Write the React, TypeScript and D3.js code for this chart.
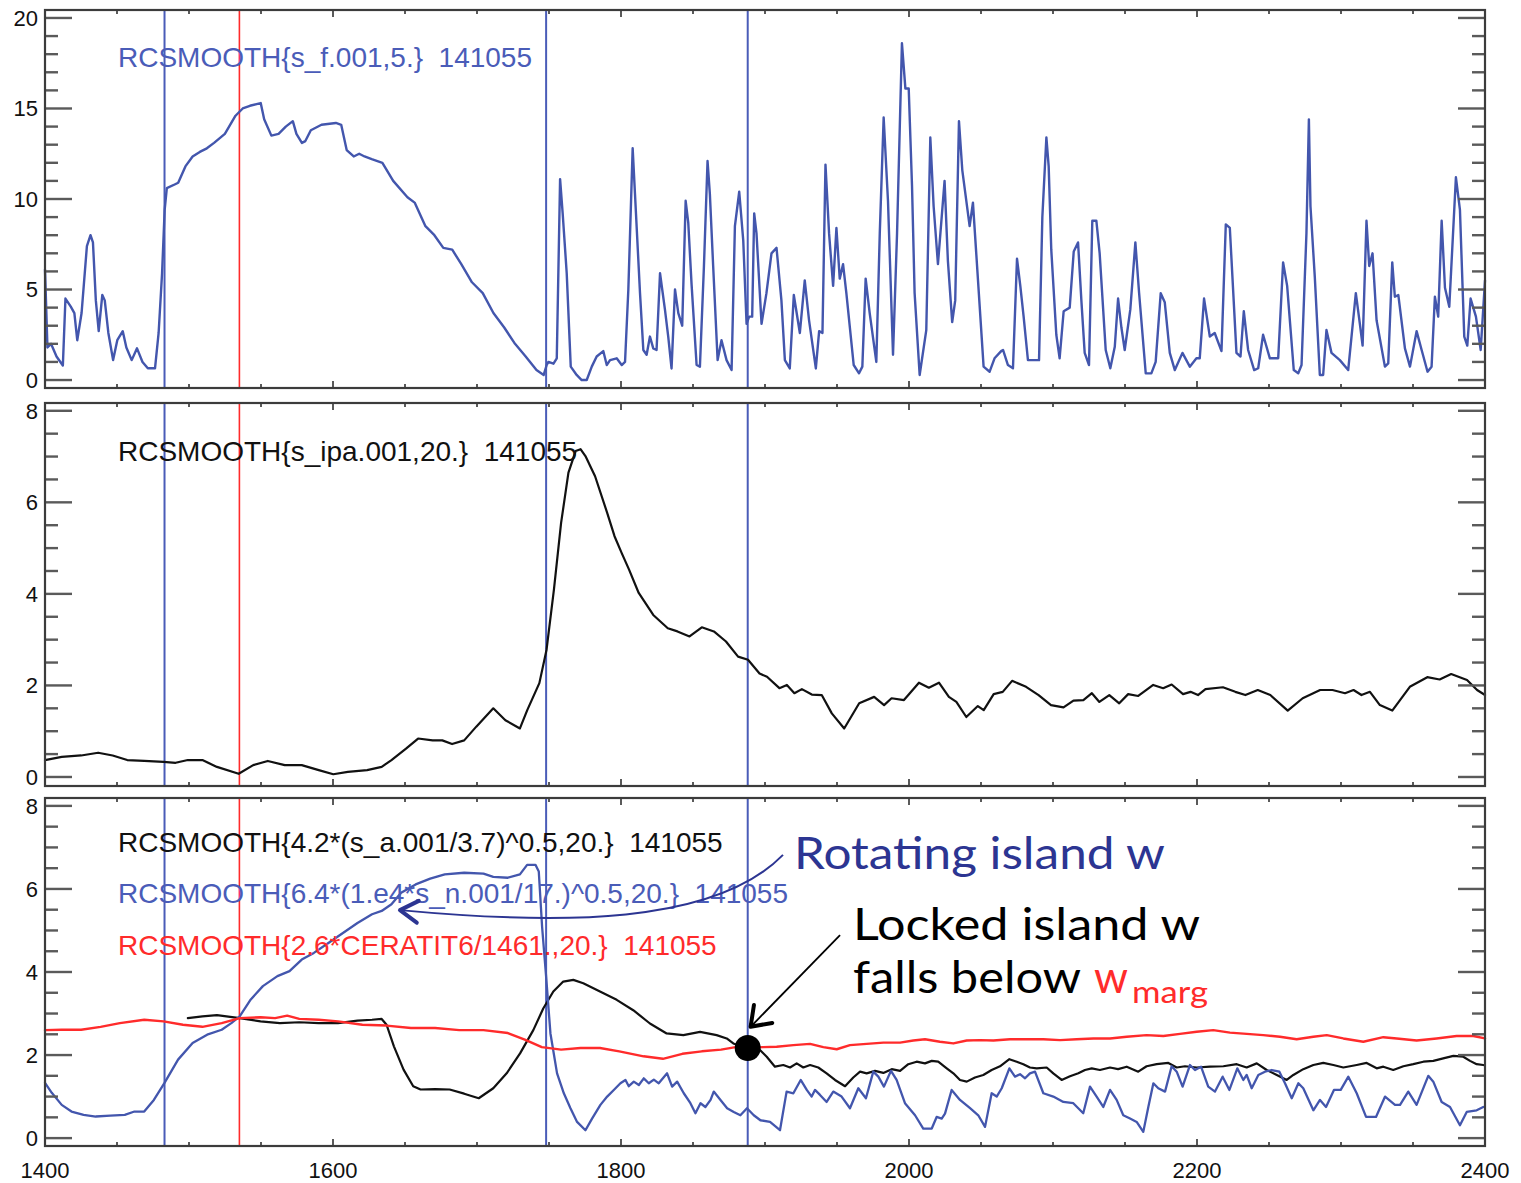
import React from 'react';
import * as d3 from 'd3';

// ---------------- DATA ----------------
const xTicksMajor = [1400, 1600, 1800, 2000, 2200, 2400];
const topYTicks = [0, 5, 10, 15, 20];
const midYTicks = [0, 2, 4, 6, 8];
const botYTicks = [0, 2, 4, 6, 8];
const blueMarkers = [1483, 1748, 1888];
const redMarkers = [1535];

const topLabel = 'RCSMOOTH{s_f.001,5.}  141055';
const midLabel = 'RCSMOOTH{s_ipa.001,20.}  141055';
const botLabels = [
  'RCSMOOTH{4.2*(s_a.001/3.7)^0.5,20.}  141055',
  'RCSMOOTH{6.4*(1.e4*s_n.001/17.)^0.5,20.}  141055',
  'RCSMOOTH{2.6*CERATIT6/1461.,20.}  141055',
];

const topF: [number, number][] = [
[1400,6.1],[1401.7,1.8],[1404.2,2.0],[1408,1.3],[1412.4,0.8],[1414.2,4.5],[1417.9,4.05],[1420.4,3.7],[1422.4,2.2],[1425.4,3.7],[1429.1,7.4],[1431.6,8.0],[1433.3,7.6],[1435.3,4.4],[1437.3,2.7],[1439.8,4.7],[1441.5,4.4],[1444,2.6],[1447.3,1.1],[1450.2,2.2],[1454,2.7],[1456.5,1.8],[1460.2,1.1],[1463.9,1.75],[1467.7,1.0],[1471.4,0.65],[1476.4,0.65],[1478.9,2.6],[1481.3,5.9],[1483.1,9.4],[1484.6,10.6],[1490,10.8],[1492.5,10.9],[1497.5,11.8],[1502.5,12.35],[1507.5,12.6],[1512.4,12.8],[1517.4,13.1],[1524.9,13.6],[1532.3,14.6],[1537.3,15.0],[1542.3,15.15],[1549.8,15.3],[1552.2,14.4],[1557.2,13.5],[1562.2,13.6],[1567.2,14.0],[1572.1,14.3],[1574.6,13.6],[1578.4,13.1],[1580.8,13.2],[1584.6,13.8],[1592,14.1],[1602,14.2],[1605.7,14.1],[1609.5,12.7],[1614.4,12.35],[1618.2,12.5],[1621.9,12.35],[1626.9,12.2],[1634.3,12.0],[1641.8,11.0],[1651.7,10.1],[1656.7,9.8],[1664.2,8.5],[1670.4,8.0],[1676.6,7.3],[1682.8,7.2],[1689.1,6.4],[1696.5,5.4],[1704,4.8],[1711.4,3.7],[1718.9,2.9],[1726.4,2.0],[1733.8,1.3],[1741.3,0.55],[1746.3,0.28],[1748.4,0.83],[1749.6,1.0],[1753.1,0.9],[1755.4,1.2],[1757.7,11.1],[1759.5,9.2],[1762.3,5.9],[1765.1,0.74],[1769.2,0.28],[1772.7,0],[1776.2,0],[1779.7,0.74],[1783.1,1.3],[1787.7,1.6],[1790.1,0.83],[1792.4,1.1],[1797,1.2],[1800.5,0.83],[1802.8,1.0],[1805.1,5.0],[1808.1,12.8],[1809.7,10.3],[1813.2,4.8],[1815.5,1.66],[1817.8,1.4],[1820.1,2.4],[1822.4,1.75],[1824.7,1.66],[1827.1,5.9],[1830.5,3.9],[1832.8,2.4],[1835.1,0.64],[1837.5,5.0],[1839.8,3.7],[1842.5,3.0],[1844.9,9.9],[1846.7,8.7],[1849,5.3],[1852.5,0.83],[1854.8,0.74],[1857.6,6.3],[1860.1,12.1],[1861.7,10.3],[1864,6.3],[1867.1,1.1],[1869.8,2.2],[1873.3,1.1],[1876.8,0.55],[1879.1,8.5],[1882.1,10.4],[1884.9,7.7],[1887.2,3.1],[1889,3.5],[1891.1,3.5],[1892.5,9.2],[1894.1,8.1],[1897.6,3.1],[1901,4.8],[1904.5,7.0],[1908,7.3],[1911.4,4.4],[1913.8,1.1],[1917.2,0.64],[1920,4.7],[1924.2,2.6],[1927.6,5.5],[1930.6,3.3],[1935.3,0.64],[1937.6,2.7],[1939.9,2.6],[1942,11.9],[1944.5,8.1],[1947.3,5.2],[1949.6,8.4],[1951.9,5.6],[1954.2,6.4],[1956.5,4.8],[1961.6,0.83],[1965.3,0.37],[1967.6,0.74],[1969.9,5.6],[1972.7,3.7],[1977.3,1.0],[1979.7,8.1],[1982.4,14.5],[1985.4,9.9],[1988.9,1.4],[1991.7,8.1],[1995.1,18.6],[1997.5,16.1],[1999.8,16.1],[2002.1,10.7],[2003.9,4.8],[2007.4,0.28],[2012,2.76],[2014.8,13.4],[2017.1,9.6],[2020.1,6.4],[2024.7,11.0],[2027,6.6],[2030,3.2],[2032.1,4.4],[2034.7,14.3],[2037,11.6],[2042.1,8.5],[2044.4,9.8],[2046.7,7.0],[2051.8,0.74],[2056,0.46],[2059.4,1.2],[2064,1.6],[2065.3,1.66],[2068.7,0.83],[2072.2,0.65],[2075,6.7],[2077.3,5.2],[2079.6,3.5],[2082.6,1.1],[2090.3,1.1],[2092.6,9.0],[2095.4,13.4],[2097,11.8],[2098.8,7.2],[2102.3,2.5],[2104.6,1.2],[2107.4,3.8],[2111.6,4.0],[2114.4,7.1],[2117.4,7.6],[2119.7,4.4],[2122,1.5],[2125,0.83],[2127.3,8.8],[2130.1,8.8],[2132.4,7.0],[2136.6,1.66],[2139.8,0.65],[2142.9,1.84],[2145.2,4.5],[2147.5,2.9],[2149.8,1.66],[2153.7,3.9],[2157.2,7.6],[2159.8,4.8],[2164.4,0.37],[2168.3,0.37],[2171.3,1.0],[2174.8,4.8],[2177.6,4.3],[2181.1,1.5],[2184.6,0.55],[2189.9,1.5],[2195,0.74],[2199.6,1.2],[2201.9,1.2],[2204.9,4.5],[2208.9,2.4],[2212.3,2.6],[2217,1.6],[2220,8.6],[2222.8,8.4],[2227.4,1.5],[2230.2,1.3],[2232.5,3.8],[2235.5,1.66],[2239.7,0.55],[2242.5,0.65],[2245.9,2.5],[2250.6,1.2],[2256.4,1.2],[2259.8,6.5],[2262.6,5.2],[2267.2,0.55],[2270.3,0.37],[2272.6,0.83],[2276,8.1],[2277.7,14.4],[2278.8,9.6],[2281.8,5.7],[2285.3,0.28],[2287.6,0.28],[2289.9,2.76],[2293.4,1.5],[2299.2,1.1],[2305,0.55],[2310.3,4.8],[2313.1,3.1],[2315,1.9],[2317.7,8.8],[2319.6,6.3],[2321.9,7.0],[2324.7,3.3],[2330.5,0.74],[2332.8,0.92],[2335.6,6.5],[2337.4,4.6],[2339.8,4.7],[2344.4,1.75],[2347.9,0.74],[2352.5,2.7],[2356,1.66],[2360.1,0.46],[2362.9,0.74],[2365.2,4.6],[2367.5,3.5],[2369.9,8.8],[2372.2,5.1],[2375.2,4.05],[2379.8,11.2],[2382.6,9.4],[2385.6,2.4],[2387.7,1.9],[2390,4.5],[2393.7,3.5],[2397,1.66],[2400,5.5]
];

const midIpa: [number, number][] = [
[1400,0.37],[1411.6,0.44],[1425.1,0.47],[1436.9,0.53],[1447,0.47],[1457.1,0.37],[1468.9,0.35],[1482.3,0.33],[1490.7,0.31],[1499.2,0.37],[1509.3,0.37],[1519.4,0.22],[1534.5,0.07],[1544.6,0.26],[1554.7,0.35],[1566.5,0.26],[1578.3,0.26],[1590.1,0.15],[1600.2,0.06],[1610.3,0.11],[1623.7,0.15],[1633.8,0.22],[1640.6,0.37],[1650.7,0.62],[1659.1,0.84],[1669.2,0.80],[1675.9,0.80],[1682.7,0.72],[1691.1,0.80],[1699.5,1.10],[1711.3,1.50],[1719.7,1.24],[1729.8,1.06],[1734.9,1.46],[1743.3,2.05],[1748.3,2.78],[1753.4,4.09],[1758.4,5.55],[1763.5,6.65],[1768.5,7.12],[1771.9,7.16],[1775.3,7.01],[1782,6.57],[1790.4,5.77],[1795.5,5.26],[1800.5,4.89],[1805.6,4.53],[1812.3,4.02],[1822.4,3.54],[1832.5,3.25],[1839.2,3.18],[1847.6,3.07],[1856.1,3.27],[1864.5,3.18],[1872.9,2.96],[1881.3,2.63],[1888.2,2.56],[1896.2,2.26],[1901.4,2.19],[1910,1.94],[1915.2,2.01],[1920.4,1.83],[1925.6,1.92],[1932.5,1.80],[1939.4,1.79],[1946.4,1.39],[1955,1.06],[1965.4,1.61],[1975.8,1.75],[1982.7,1.57],[1987.9,1.72],[1996.5,1.68],[2006.9,2.06],[2013.8,1.95],[2020.8,2.06],[2027.7,1.75],[2032.9,1.64],[2039.8,1.31],[2047.8,1.55],[2051.9,1.46],[2058.8,1.81],[2065.1,1.86],[2071.6,2.10],[2081.3,1.97],[2090,1.79],[2098.6,1.57],[2107.3,1.52],[2114.2,1.67],[2121.1,1.68],[2127,1.83],[2132.2,1.64],[2139.1,1.79],[2146,1.61],[2152.2,1.81],[2159.2,1.77],[2169.6,2.01],[2176.5,1.94],[2182.4,2.02],[2190.3,1.81],[2195.5,1.86],[2200.7,1.79],[2205.9,1.92],[2218,1.96],[2226.6,1.86],[2233.6,1.79],[2242.2,1.90],[2250.9,1.79],[2263,1.45],[2273.4,1.72],[2285.5,1.90],[2294.1,1.90],[2302.8,1.83],[2308.7,1.90],[2314.2,1.79],[2320.1,1.86],[2327,1.57],[2335.6,1.45],[2347.8,1.97],[2359.9,2.18],[2368.5,2.13],[2376.5,2.25],[2387.5,2.12],[2394.5,1.90],[2400,1.79]
];

const botA: [number, number][] = [
[1499.2,2.89],[1509.3,2.93],[1519.4,2.96],[1535.2,2.89],[1549.7,2.81],[1563.1,2.77],[1576.6,2.79],[1590.1,2.77],[1603.5,2.77],[1617,2.83],[1627.1,2.85],[1633.8,2.87],[1637.2,2.73],[1642.3,2.21],[1649,1.65],[1655.7,1.25],[1660.8,1.17],[1670.9,1.18],[1681,1.17],[1691.1,1.07],[1701.2,0.96],[1711.3,1.20],[1720.6,1.56],[1729.9,2.04],[1739.1,2.60],[1746,3.12],[1753,3.53],[1759.9,3.77],[1766.9,3.81],[1773.8,3.73],[1785.4,3.53],[1797,3.33],[1808.5,3.08],[1820.1,2.76],[1831.7,2.52],[1843.3,2.48],[1854.9,2.56],[1866.4,2.48],[1873.4,2.40],[1878,2.28],[1887.6,2.16],[1896.5,2.12],[1901.2,1.96],[1906.9,1.72],[1912.7,1.76],[1917.4,1.70],[1922,1.80],[1926.6,1.70],[1931.3,1.76],[1937,1.70],[1942.8,1.56],[1948.6,1.40],[1955.6,1.25],[1961.3,1.46],[1966,1.60],[1970.6,1.56],[1976.4,1.62],[1982.2,1.57],[1988,1.66],[1993.8,1.62],[1999.5,1.78],[2005.3,1.84],[2011.1,1.80],[2015.8,1.86],[2020.3,1.84],[2026.2,1.68],[2030.8,1.56],[2035.4,1.40],[2040.1,1.36],[2045.8,1.46],[2051.6,1.52],[2057.4,1.64],[2063.2,1.73],[2069.7,1.90],[2074.8,1.84],[2079.4,1.78],[2084,1.70],[2088.7,1.68],[2095.6,1.70],[2100.2,1.56],[2106,1.40],[2111.8,1.49],[2117.6,1.56],[2122.2,1.64],[2126.9,1.68],[2132.6,1.64],[2139.6,1.70],[2145.2,1.66],[2151.2,1.72],[2159.2,1.60],[2165,1.73],[2172,1.78],[2180.1,1.81],[2185.9,1.70],[2191.7,1.73],[2199.8,1.70],[2209,1.72],[2218.3,1.73],[2227.6,1.78],[2234.5,1.70],[2241.5,1.80],[2248.4,1.64],[2255.4,1.52],[2262.3,1.40],[2266.9,1.52],[2273.8,1.66],[2280.8,1.76],[2287.7,1.81],[2294.7,1.76],[2301.6,1.70],[2310.9,1.76],[2317.8,1.81],[2324.8,1.68],[2329.4,1.72],[2336.3,1.64],[2343.3,1.73],[2350.2,1.78],[2357.2,1.84],[2364.1,1.86],[2371,1.92],[2378,1.98],[2384.9,1.96],[2389.6,1.86],[2394.2,1.78],[2398.8,1.76]
];

const botN: [number, number][] = [
[1400,1.33],[1404.7,1.09],[1411.6,0.80],[1418.4,0.64],[1426.8,0.56],[1435.2,0.52],[1445.3,0.54],[1455.4,0.56],[1462.1,0.64],[1468.9,0.64],[1475.6,0.92],[1483,1.33],[1492.4,1.89],[1502.5,2.29],[1512.6,2.49],[1522.7,2.61],[1529.4,2.77],[1535.2,2.93],[1542.9,3.34],[1551.3,3.66],[1561.4,3.90],[1569.8,4.02],[1578.3,4.30],[1586.7,4.46],[1596.8,4.70],[1606.9,4.94],[1617,5.18],[1627.1,5.39],[1633.8,5.47],[1640.6,5.63],[1647.3,5.91],[1657.4,6.11],[1667.5,6.25],[1677.6,6.35],[1691.1,6.39],[1704.5,6.37],[1711.3,6.29],[1721.4,6.27],[1729.8,6.35],[1734.8,6.58],[1740.6,6.58],[1742.9,6.42],[1745.2,5.09],[1748,3.89],[1751,2.52],[1755.6,1.56],[1760.3,1.08],[1764.9,0.72],[1769.5,0.39],[1775.3,0.19],[1779.9,0.47],[1785.7,0.80],[1790.4,1.0],[1795,1.16],[1799.6,1.32],[1803.1,1.40],[1805.4,1.25],[1808.9,1.36],[1812.4,1.28],[1815.8,1.44],[1819.3,1.32],[1822.8,1.41],[1826.2,1.32],[1832,1.56],[1835.5,1.24],[1839,1.36],[1843.6,1.08],[1848.2,0.84],[1851.7,0.60],[1855.2,0.84],[1858.6,0.75],[1862.2,0.92],[1864.4,1.12],[1869.1,0.92],[1873.7,0.72],[1878.3,0.63],[1882.9,0.55],[1887.5,0.72],[1892.2,0.55],[1896.8,0.43],[1903.5,0.39],[1910.4,0.19],[1915,1.12],[1919.7,1.08],[1924.8,1.40],[1929,1.16],[1932.4,1.0],[1934.7,1.16],[1938.2,1.04],[1942.8,0.87],[1947.4,1.12],[1953.2,1.0],[1959,0.72],[1964.8,1.20],[1970.1,0.96],[1975.2,1.60],[1978.7,1.48],[1982.6,1.24],[1987.5,1.62],[1991.4,1.40],[1997.2,0.84],[2004.2,0.55],[2009.9,0.23],[2015.8,0.23],[2019.2,0.51],[2022.7,0.47],[2025,0.59],[2029.6,1.16],[2035.4,0.92],[2042.4,0.72],[2048.1,0.55],[2052.8,0.27],[2057.4,1.08],[2060.9,1.0],[2064.4,1.20],[2069.7,1.68],[2073.6,1.48],[2077.1,1.54],[2080.6,1.44],[2084,1.56],[2087.5,1.60],[2093.3,1.08],[2100.2,1.0],[2107.2,0.87],[2114.1,0.84],[2121,0.60],[2125.7,1.24],[2130.3,1.0],[2134.9,0.75],[2139.6,1.16],[2144.2,0.92],[2148.8,0.55],[2153.5,0.47],[2158.1,0.39],[2162.7,0.15],[2166.2,0.75],[2169.7,1.32],[2173.1,1.20],[2177.8,1.12],[2182.4,1.73],[2185.9,1.60],[2190,1.24],[2195.1,1.76],[2198.6,1.64],[2202.8,1.72],[2207.8,1.24],[2212.5,1.12],[2217.8,1.48],[2222.5,1.16],[2228,1.68],[2232.2,1.40],[2234.5,1.52],[2238,1.20],[2242.6,1.52],[2247.2,1.60],[2251.9,1.64],[2257.2,1.60],[2261.1,1.32],[2265.8,0.96],[2270.4,1.32],[2273.8,1.20],[2280.8,0.67],[2285.4,0.92],[2289.6,0.75],[2295.1,1.16],[2299.8,1.16],[2305.1,1.48],[2310.9,1.08],[2317.4,0.51],[2324.3,0.51],[2330.6,1.0],[2337.5,0.80],[2341,0.80],[2346.7,1.12],[2352.5,0.80],[2360.6,1.50],[2364.1,1.36],[2369.9,0.87],[2375.7,0.75],[2382.6,0.31],[2387.3,0.63],[2394.2,0.67],[2398.8,0.75]
];

const botCer: [number, number][] = [
[1400,2.60],[1411.6,2.61],[1425.1,2.61],[1438.6,2.68],[1452,2.77],[1468.9,2.85],[1482.3,2.81],[1495.8,2.73],[1509.3,2.68],[1522.7,2.77],[1535.2,2.89],[1549.7,2.91],[1559.8,2.89],[1568.2,2.95],[1576.6,2.87],[1590.1,2.85],[1603.5,2.81],[1620.4,2.73],[1637.2,2.71],[1654.1,2.65],[1670.9,2.65],[1687.7,2.60],[1704.5,2.60],[1721.4,2.53],[1733.2,2.37],[1745,2.19],[1758.4,2.13],[1771.9,2.17],[1785.4,2.17],[1798.8,2.09],[1815.7,1.97],[1829.1,1.91],[1842.6,2.03],[1856.1,2.09],[1869.5,2.13],[1879.6,2.19],[1888,2.18],[1898.8,2.19],[1908.1,2.20],[1919.7,2.24],[1931.3,2.27],[1940.5,2.19],[1949.8,2.14],[1959,2.24],[1970.6,2.27],[1982.2,2.30],[1993.8,2.30],[2003,2.35],[2011.1,2.38],[2021.5,2.32],[2030.8,2.28],[2040.1,2.35],[2049.3,2.36],[2058.6,2.35],[2070.1,2.38],[2081.7,2.38],[2093.3,2.38],[2104.9,2.36],[2116.4,2.38],[2128,2.40],[2139.6,2.40],[2151.2,2.44],[2165,2.48],[2176.6,2.46],[2188.2,2.51],[2199.8,2.56],[2211.3,2.60],[2222.9,2.54],[2234.5,2.51],[2246,2.48],[2257.6,2.44],[2269.2,2.38],[2280.8,2.44],[2290.1,2.48],[2301.6,2.40],[2315.5,2.32],[2329.4,2.43],[2338.7,2.40],[2352.5,2.35],[2366.4,2.40],[2380.3,2.46],[2391.9,2.46],[2400,2.40]
];

// annotation anchors (bottom panel data coordinates)
const rotArrow: [number, number][] = [[1912.5, 6.82], [1865.0, 5.13], [1757.6, 5.13], [1646.5, 5.49]];
const lockArrow: [number, number][] = [[1952.1, 4.89], [1890.0, 2.68]];
const lockPoint: [number, number] = [1888, 2.17];

// ---------------- STYLE ----------------
const BLUE = '#4356ad';
const VBLUE = '#4a5cb8';
const RED = '#ff2b2b';
const ANNO_BLUE = '#2c3592';
const FRAME = '#3c3c3c';
const TICK = '#5a5a5a';
const SANS = '"Liberation Sans", Arial, Helvetica, sans-serif';
const GOTHIC = 'Lato, "Noto Sans", sans-serif';

const X0 = 45, X1 = 1485;

type Panel = { y0: number; y1: number; dom: [number, number]; ticks: number[]; minor: number };
const panels: Panel[] = [
  { y0: 10, y1: 388, dom: [-0.44, 20.44], ticks: topYTicks, minor: 1 },
  { y0: 403, y1: 786, dom: [-0.197, 8.17], ticks: midYTicks, minor: 0.5 },
  { y0: 798, y1: 1146, dom: [-0.19, 8.19], ticks: botYTicks, minor: 0.5 },
];

const x = d3.scaleLinear().domain([1400, 2400]).range([X0, X1]);

function PanelFrame({ p, showX }: { p: Panel; showX: boolean }) {
  const y = d3.scaleLinear().domain(p.dom).range([p.y1, p.y0]);
  const minorY = d3.range(0, p.ticks[p.ticks.length - 1] + 1e-9, p.minor);
  const minorX = d3.range(1400, 2400 + 1e-9, 50);
  const majorSet = new Set(p.ticks);
  return (
    <g>
      {minorY.map((v) => {
        const major = majorSet.has(Math.round(v * 1000) / 1000);
        const len = major ? 27 : 13;
        const yy = y(v);
        return (
          <g key={'y' + v}>
            <line x1={X0} x2={X0 + len} y1={yy} y2={yy} stroke={TICK} strokeWidth={2.4} />
            <line x1={X1} x2={X1 - len} y1={yy} y2={yy} stroke={TICK} strokeWidth={2.4} />
          </g>
        );
      })}
      {minorX.map((v) => {
        const major = v % 200 === 0;
        const len = major ? 7 : 4;
        const xx = x(v);
        return (
          <g key={'x' + v}>
            <line x1={xx} x2={xx} y1={p.y0} y2={p.y0 + len} stroke={TICK} strokeWidth={2} />
            <line x1={xx} x2={xx} y1={p.y1} y2={p.y1 - len} stroke={TICK} strokeWidth={2} />
          </g>
        );
      })}
      {p.ticks.map((v) => (
        <text key={'l' + v} x={38} y={y(v)} dy="0.36em" textAnchor="end" fontFamily={SANS} fontSize={22} fill="#111">
          {v}
        </text>
      ))}
      {showX &&
        xTicksMajor.map((v) => (
          <text key={'xl' + v} x={x(v)} y={1178} textAnchor="middle" fontFamily={SANS} fontSize={22} fill="#111">
            {v}
          </text>
        ))}
    </g>
  );
}

function Markers({ p }: { p: Panel }) {
  return (
    <g>
      {blueMarkers.map((t) => (
        <line key={'b' + t} x1={x(t)} x2={x(t)} y1={p.y0} y2={p.y1} stroke={VBLUE} strokeWidth={2} />
      ))}
      {redMarkers.map((t) => (
        <line key={'r' + t} x1={x(t)} x2={x(t)} y1={p.y0} y2={p.y1} stroke={RED} strokeWidth={1.6} />
      ))}
    </g>
  );
}

function Series({ p, data, color, w = 2 }: { p: Panel; data: [number, number][]; color: string; w?: number }) {
  const y = d3.scaleLinear().domain(p.dom).range([p.y1, p.y0]);
  const line = d3
    .line<[number, number]>()
    .x((d) => x(d[0]))
    .y((d) => y(d[1]));
  return <path d={line(data) || ''} fill="none" stroke={color} strokeWidth={w} strokeLinejoin="round" strokeLinecap="round" />;
}

function arrowHead(tip: [number, number], from: [number, number], len: number, ang: number) {
  const dx = from[0] - tip[0];
  const dy = from[1] - tip[1];
  const a = Math.atan2(dy, dx);
  const p1 = [tip[0] + len * Math.cos(a + ang), tip[1] + len * Math.sin(a + ang)];
  const p2 = [tip[0] + len * Math.cos(a - ang), tip[1] + len * Math.sin(a - ang)];
  return `M${p1[0]},${p1[1]} L${tip[0]},${tip[1]} L${p2[0]},${p2[1]}`;
}

export default function App() {
  const [pt, pm, pb] = panels;
  const yb = d3.scaleLinear().domain(pb.dom).range([pb.y1, pb.y0]);
  const P = (d: [number, number]): [number, number] => [x(d[0]), yb(d[1])];
  const r0 = P(rotArrow[0]), r1 = P(rotArrow[1]), r2 = P(rotArrow[2]), r3 = P(rotArrow[3]);
  const rotPath = `M${r0[0]},${r0[1]} C${r1[0]},${r1[1]} ${r2[0]},${r2[1]} ${r3[0]},${r3[1]}`;
  const l0 = P(lockArrow[0]), l1 = P(lockArrow[1]);
  const dot = P(lockPoint);

  return (
    <div style={{ position: 'absolute', left: 0, top: 0 }}>
      <svg width={1521} height={1183} style={{ display: 'block', background: '#fff' }}>
        {/* top panel */}
        <Markers p={pt} />
        <Series p={pt} data={topF} color={BLUE} w={2.4} />
        <PanelFrame p={pt} showX={false} />
        <rect x={X0} y={pt.y0} width={X1 - X0} height={pt.y1 - pt.y0} fill="none" stroke={FRAME} strokeWidth={2.2} />
        <text x={118} y={67} fontFamily={SANS} fontSize={28} fill={VBLUE} style={{ whiteSpace: 'pre' }}>
          {topLabel}
        </text>

        {/* middle panel */}
        <Markers p={pm} />
        <Series p={pm} data={midIpa} color="#111" w={2.2} />
        <PanelFrame p={pm} showX={false} />
        <rect x={X0} y={pm.y0} width={X1 - X0} height={pm.y1 - pm.y0} fill="none" stroke={FRAME} strokeWidth={2.2} />
        <text x={118} y={461} fontFamily={SANS} fontSize={28} fill="#111" style={{ whiteSpace: 'pre' }}>
          {midLabel}
        </text>

        {/* bottom panel */}
        <Markers p={pb} />
        <Series p={pb} data={botA} color="#111" w={2.2} />
        <Series p={pb} data={botN} color={BLUE} w={2.3} />
        <Series p={pb} data={botCer} color={RED} w={2.4} />
        <PanelFrame p={pb} showX={true} />
        <rect x={X0} y={pb.y0} width={X1 - X0} height={pb.y1 - pb.y0} fill="none" stroke={FRAME} strokeWidth={2.2} />
        <text x={118} y={852} fontFamily={SANS} fontSize={28} fill="#111" style={{ whiteSpace: 'pre' }}>
          {botLabels[0]}
        </text>
        <text x={118} y={903} fontFamily={SANS} fontSize={28} fill={VBLUE} style={{ whiteSpace: 'pre' }}>
          {botLabels[1]}
        </text>
        <text x={118} y={955} fontFamily={SANS} fontSize={28} fill={RED} style={{ whiteSpace: 'pre' }}>
          {botLabels[2]}
        </text>

        {/* annotations */}
        <path d={rotPath} fill="none" stroke={ANNO_BLUE} strokeWidth={2} />
        <path d={arrowHead(r3, r2, 21, 0.55)} fill="none" stroke={ANNO_BLUE} strokeWidth={4} strokeLinecap="round" strokeLinejoin="round" />
        <line x1={l0[0]} y1={l0[1]} x2={l1[0]} y2={l1[1]} stroke="#000" strokeWidth={1.8} />
        <path d={arrowHead(l1, l0, 22, 0.62)} fill="none" stroke="#000" strokeWidth={4} strokeLinecap="round" strokeLinejoin="round" />
        <circle cx={dot[0]} cy={dot[1]} r={13} fill="#000" />

        <text x={794} y={869} fontFamily={GOTHIC} fontSize={45} fill={ANNO_BLUE} textLength={371} lengthAdjust="spacingAndGlyphs">
          Rotating island w
        </text>
        <text x={853} y={940} fontFamily={GOTHIC} fontSize={45} fill="#000" textLength={347} lengthAdjust="spacingAndGlyphs">
          Locked island w
        </text>
        <text x={853} y={993} fontFamily={GOTHIC} fontSize={45} fill="#000" textLength={228} lengthAdjust="spacingAndGlyphs">
          falls below
        </text>
        <text x={1094} y={993} fontFamily={GOTHIC} fontSize={45} fill={RED} textLength={34} lengthAdjust="spacingAndGlyphs">
          w
        </text>
        <text x={1132} y={1003} fontFamily={GOTHIC} fontSize={31} fill={RED} textLength={76} lengthAdjust="spacingAndGlyphs">
          marg
        </text>
      </svg>
    </div>
  );
}
